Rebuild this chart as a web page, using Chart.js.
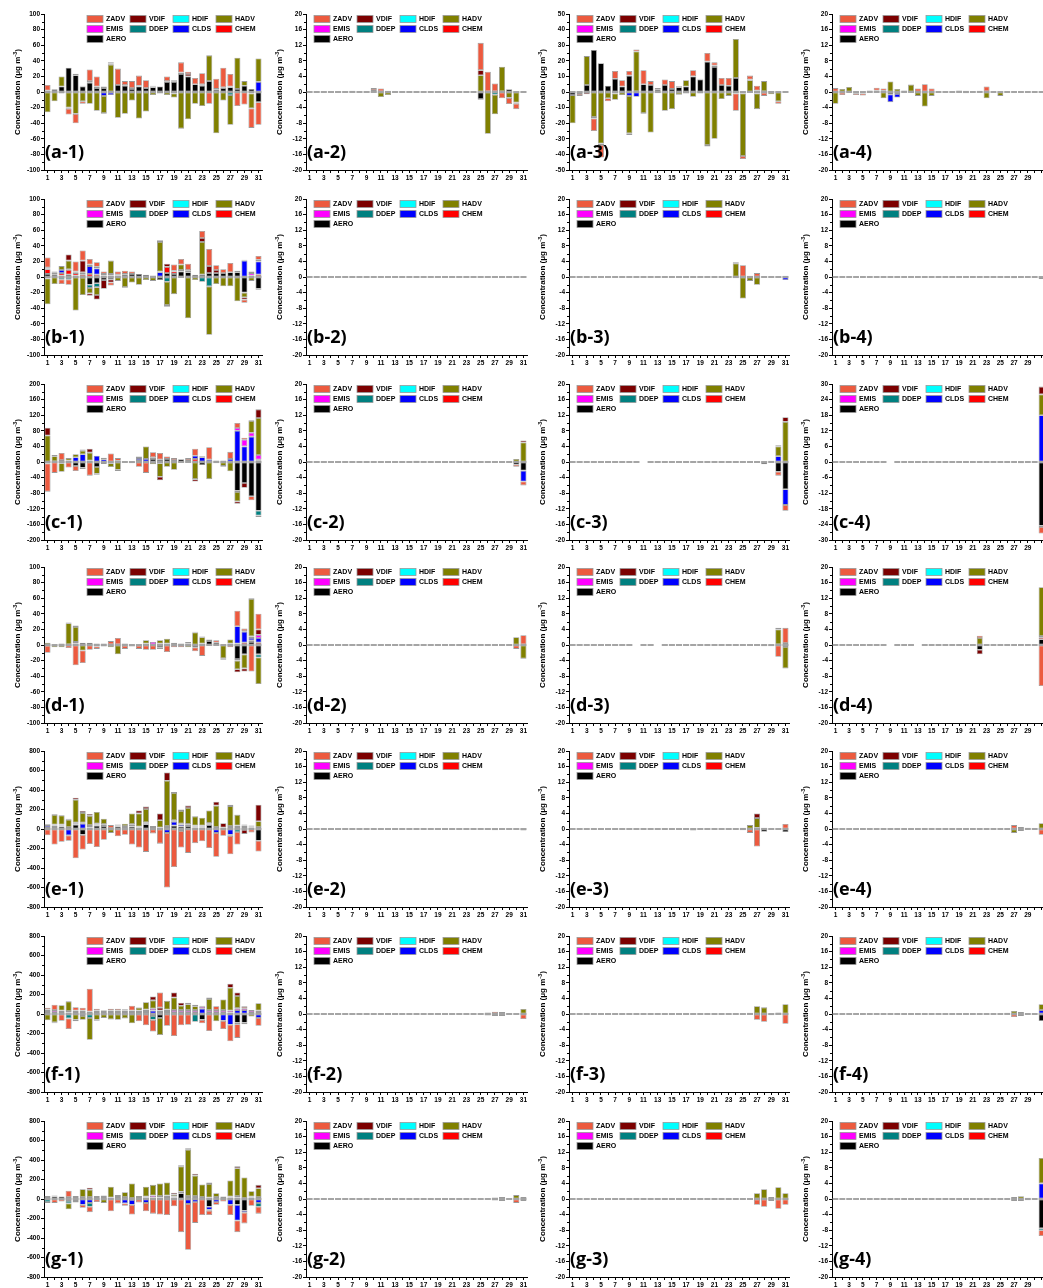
<!DOCTYPE html>
<html>
<head>
<meta charset="utf-8">
<script src="https://cdn.jsdelivr.net/npm/chart.js@4.4.0/dist/chart.umd.min.js"></script>
<style>
  html, body { margin: 0; padding: 0; background: #fff; }
  body { position: relative; width: 1043px; height: 1288px; overflow: hidden; }
  canvas { position: absolute; }
</style>
</head>
<body>
<script>
// ---- categories ------------------------------------------------------------
const DAYS = [1,2,3,4,5,6,7,8,9,10,11,12,13,14,15,16,17,18,19,20,21,22,23,24,25,26,27,28,29,30,31];

// ---- process contributions (µg m-3), full daily lists or [day, value] pairs ---
// row a
const A1_AERO = [2,3,7,31,21.5,7,12,5,5,-1,9,8,4,7,5,6,7,13,13,23,20,10,8,14,3,5,6,4,8,4,-13];
const A1_HADV = [-26,-12,13,-20,-28,-12,-15,-24,-22,35,-33,-28,-11,-34,-25,-4,-2,-4,-5,-47,-35,-15,-18,33,-53,-11,-38,40,6,-19,30];
const A1_VDIF = [0,1,0,-1.5,2,1,2,2,-1,1.5,0,1,1,1,0,1,0,1,2,2,3,0,2,0,1,1,1,0,0,0,0];
const A1_ZADV = [7,0,-2,-7.5,-12,-3,15,13,2,1.5,21,5,9,13,10,1,0,6,0,13,3,8,14,-15,13,25,16,-18,-16,-25,-29];
const A1_CLDS = [[9,-5],[10,-3],[31,13]];
const A1_DDEP = [[19,-2],[27,-4],[30,-2]];

const A2_AERO = [[24,0.2],[25,-1.8],[26,0.2],[27,0.2],[28,0.2],[29,0.7]];
const A2_DDEP = [[25,-0.2],[27,-0.7]];
const A2_HADV = [[7,0.3],[10,0.5],[11,-1.3],[12,-0.8],[25,4.3],[26,-10.7],[27,-5],[28,6.3],[29,-1.5],[30,-2.7]];
const A2_VDIF = [[11,0.2],[25,1.3],[30,-0.3]];
const A2_ZADV = [[10,0.5],[11,0.7],[12,0.3],[25,7],[26,5],[27,2],[28,-1.6],[29,-1.6],[30,-1.4]];

const A3_AERO = [-2,0,4.5,27,18.5,4,8.5,3.5,10.5,0.5,5,4.5,1.5,4.5,2,3,3.5,10,8,19.5,16,4.5,4,9,0.5,0,1,0.5,0.7,0,0];
const A3_HADV = [-18,0,18.5,-16,-33,-4,-4,-2,-24,25.5,-13.5,-26,-0.8,-12,-11,-1.7,4,-3,-1,-34,-30,-4.5,-2.5,25,-40,7.5,-10,6.5,-1.5,-6,0];
const A3_VDIF = [0,0,-1.5,-1,-1,0,0,0,-1,0,-0.5,0,0,0,0,0,0,0,0.5,-1,1,0,0,0,0,0.5,0,0,0,0,0];
const A3_ZADV = [0.5,-1.2,0,-8,-8,-2,5,4,3,1.3,9,2.5,1,3.5,5,0.7,0,4,0,5.5,2,4.5,5,-11,-2,2.5,3,-2,0,-1.5,0];
const A3_CHEM = [[2,-1.3],[7,-1],[17,-1],[24,-1],[25,-1],[28,-0.5]];
const A3_CLDS = [[9,-2.5],[10,-3]];
const A3_DDEP = [[27,-1]];

const A4_AERO = [0,-0.2,-0.2,-0.3,0,0.4,0.4,0.3,-0.6,-0.5,0,-0.2,0,0,0,0,0,0,0.4,0.3,0.2,0,0.2,0.1,0,0.2,0.2,-0.1,-0.1,-0.2,-0.2];
const A4_HADV = [-3,0.8,1.3,0,-0.4,0,0,-1.6,2.7,0.8,0.4,1.9,-1,-3.7,-1,0,0,0,0,-0.3,0,0,-1.6,0,-1,0,0,0,0,0,0];
const A4_ZADV = [1,-0.6,0,-0.5,-0.5,0,0.7,0.6,0,0,0,0,0.9,2,0.9,0,0,0,0,0,0,0,1.2,0,0,0,0,0,0,0,0];
const A4_CLDS = [[9,-2],[10,-0.9]];
const A4_VDIF = [[22,0.3]];

// row b
const B1_AERO = [4,3,2,3,2,-1,-10,-8,-4,-3,2,3,4,4,3,2,-4,5,4,7,6,3,3,5,5,5,6,6,-20,2,-15];
const B1_CHEM = [6,2,3,6,3,3,4,3,2,2,1,1,0,0,0,0,0,8,3,2,2,0,0,0,0,0,0,0,0,0,3];
const B1_CLDS = [1,0,4,0,1,2,10,8,0,0,0,0,0,0,0,0,6,0,0,0,0,0,0,0,0,0,0,0,21,0,17];
const B1_DDEP = [-2,0,-3,-3,0,0,-4,-5,0,0,0,0,0,0,0,0,0,-6,0,-1,0,0,-6,-12,0,0,0,0,0,0,-1.5];
const B1_EMIS = [1,1,0,1,1,1,2,2,2,2,0,0,0,0,0,0,1,0,1,0,0,0,0,0,0,0,0,0,1,3,2];
const B1_HADV = [-33,-9,5,11,-43,-22,-7,-10,0,17,-5,-13,-7,-10,-4,-5,38,-30,-22,7,-53,-4,42,-62,-9,-12,-12,-31,-6,-5,0];
const B1_VDIF = [0,1,0,8,0,15,-3,-6,-11,-4,0,-1,0,0,0,0,2,4,0,0,1,0,5,9,4,0,0,0,-3,0,0];
const B1_ZADV = [13,0,-6,-7,13,13,7,6,3,-4,4,4,3,0,0,0,0,-2,8,7,8,0,9,22,6,5,12,2,-4,2,5];

const B3_AERO = [[24,-0.3],[26,0.3],[28,0.2],[31,0.3]];
const B3_CLDS = [[31,-0.8]];
const B3_HADV = [[24,3.5],[25,-5.5],[26,-1],[27,-2]];
const B3_VDIF = [[24,0.3]];
const B3_ZADV = [[25,3],[27,1]];

const B4_AERO = [[26,-0.2],[27,-0.3],[28,-0.2],[31,-0.5]];

// row c
const C1_AERO = [-4,2,-3,0,-10,-15,4,-13,-5,-3,3,2,2,5,0,8,6,8,5,7,5,0,-8,0,4,0,0,-74,-54,-88,-125];
const C1_CLDS = [0,0,5,4,12,20,0,16,7,0,0,0,0,5,8,0,0,0,0,0,0,8,12,6,0,4,8,80,40,65,3];
const C1_HADV = [68,13,-22,6,8,9,20,-17,4,-10,-20,0,0,4,32,-6,-35,-12,-20,0,-2,-44,0,-44,0,-10,-24,-24,0,30,95];
const C1_VDIF = [20,3,0,0,0,3,10,-3,0,0,-3,0,0,0,0,4,-9,0,0,0,0,-6,0,0,0,0,0,-6,-12,2,22];
const C1_ZADV = [-72,-28,18,-14,-13,-3,-35,0,0,22,7,-2,-3,-12,-28,13,17,6,5,-2,5,18,3,32,-3,-2,18,13,5,-10,-4];
const C1_CHEM = [[22,8],[31,3]];
const C1_DDEP = [[17,-3],[28,-3],[31,-12]];
const C1_EMIS = [[28,7],[29,17],[30,10],[31,12]];

const C2_AERO = [[30,-0.7],[31,-2.2]];
const C2_CLDS = [[31,-2.8]];
const C2_HADV = [[16,0.3],[30,0.8],[31,5]];
const C2_VDIF = [[31,0.5]];
const C2_ZADV = [[30,-0.5],[31,-1]];

const C3_AERO = [[28,-0.6],[29,0.3],[30,-2.5],[31,-7]];
const C3_CLDS = [[30,1.5],[31,-4]];
const C3_HADV = [[30,2.5],[31,10.3]];
const C3_VDIF = [[30,0.3],[31,1.2]];
const C3_ZADV = [[30,-1],[31,-1.5]];
const C3_MISSING = [11];

const C4_AERO = [[28,-0.5],[31,-24.5]];
const C4_CLDS = [[31,18]];
const C4_DDEP = [[31,-0.5]];
const C4_HADV = [[31,8]];
const C4_VDIF = [[31,3]];
const C4_ZADV = [[31,-2.5]];
const C4_MISSING = [9];

// row d
const D1_AERO = [-1,1,2,1,2,3,3,2,1,1,1,2,1,-1,2,1,-3,2,1,2,2,-3,2,5,3,1,2,-18,-12,4,-12];
const D1_HADV = [3,-3,-3,27,19,-7,0,-2,1,-3,-12,0,0,0,4,0,4,6,2,0,-3,16,8,-1,-1,-17,5,-11,-18,48,-34];
const D1_VDIF = [0,0,0,1,2,0,0,0,0,0,0,-1,0,0,0,0,0,0,0,0,0,1,1,0,0,-2,0,-4,-4,1,7];
const D1_ZADV = [-9,0,0,-4,-26,-16,-6,-3,-2,4,8,-4,-2,-4,-6,-6,-2,-9,-3,-3,2,-5,-14,2,3,0,-3,20,3,-34,20];
const D1_CHEM = [[5,2],[28,2],[29,3],[30,2],[31,3]];
const D1_CLDS = [[28,22],[29,14],[30,3],[31,6]];
const D1_DDEP = [[28,-2],[31,-4]];
const D1_EMIS = [[16,3],[17,2],[29,1],[30,2],[31,4]];

const D2_AERO = [[31,0.2]];
const D2_HADV = [[30,2],[31,-3.5]];
const D2_ZADV = [[30,-1],[31,2.3]];

const D3_AERO = [[28,-0.3],[30,0.2],[31,0.5]];
const D3_CLDS = [[31,-0.5]];
const D3_HADV = [[30,3.8],[31,-5.5]];
const D3_VDIF = [[28,0.2],[29,-0.3],[30,0.4]];
const D3_ZADV = [[30,-3],[31,3.9]];
const D3_MISSING = [10,13];

const D4_AERO = [[10,-0.2],[22,-1.2],[28,0.2],[29,0.2],[31,1.5]];
const D4_CHEM = [[31,0.5]];
const D4_CLDS = [[31,0.3]];
const D4_HADV = [[22,1.8],[31,12.5]];
const D4_VDIF = [[22,-1.2]];
const D4_ZADV = [[22,0.6],[31,-10.5]];
const D4_MISSING = [9,13];

// row e
const E1_AERO = [20,20,25,10,45,-60,15,35,30,10,25,20,25,10,50,20,5,20,35,25,30,15,15,40,10,10,20,20,20,15,-120];
const E1_CLDS = [20,15,10,-65,10,55,15,10,10,0,0,0,15,5,10,0,0,-40,40,20,10,10,0,10,-40,0,-60,10,15,0,10];
const E1_EMIS = [10,10,10,10,10,10,10,10,10,0,10,10,10,10,10,10,10,10,15,10,10,10,10,10,10,5,10,5,10,10,10];
const E1_HADV = [0,100,95,75,235,100,95,120,55,-40,0,25,110,135,135,0,75,465,280,130,165,95,80,130,220,0,205,110,-10,10,60];
const E1_VDIF = [0,10,0,10,20,20,20,0,0,0,10,0,0,30,25,0,70,85,10,15,25,0,0,0,40,45,15,5,-40,0,170];
const E1_ZADV = [-65,-160,-130,-55,-300,-150,-155,-185,-110,30,-75,-60,-160,-190,-235,-45,-150,-560,-390,-170,-245,-145,-125,-195,-245,-70,-190,-130,0,-35,-110];
const E1_DDEP = [[20,-20],[23,10],[27,-10],[28,-30]];

const E2_AERO = [[25,0.2],[26,-0.2],[31,-0.4]];
const E2_HADV = [[27,-0.3]];

const E3_AERO = [[25,0.3],[27,0.3],[28,-0.7],[31,-0.8]];
const E3_HADV = [[18,-0.4],[26,1],[27,2.5],[28,0.3]];
const E3_VDIF = [[27,1.2]];
const E3_ZADV = [[25,-0.3],[26,-1],[27,-4.5],[31,1.3]];

const E4_AERO = [[28,0.5],[29,0.3]];
const E4_HADV = [[27,-1],[31,1.5]];
const E4_ZADV = [[27,1],[28,-0.5],[31,-1.5]];

// row f
const F1_AERO = [20,20,20,15,20,20,10,20,20,20,20,20,20,20,20,-20,-40,20,20,20,20,20,-60,20,20,20,15,-90,-90,20,20];
const F1_EMIS = [15,20,15,15,15,15,15,15,15,15,15,15,15,15,15,20,15,15,20,20,20,20,20,20,20,20,20,20,20,20,15];
const F1_HADV = [-65,-85,55,100,-60,-40,-225,-60,-40,-55,-60,-45,-95,30,75,85,-175,90,130,45,60,40,0,115,-75,110,235,125,0,-25,75];
const F1_VDIF = [0,-10,0,0,-15,0,0,-10,0,-5,0,0,0,5,0,40,30,0,50,30,15,15,10,15,0,0,40,35,-15,0,0];
const F1_ZADV = [20,55,-70,-110,35,30,235,20,5,20,20,15,50,-75,-115,-120,155,-120,-225,-115,-110,0,-35,-175,40,-85,-170,-140,20,0,-80];
const F1_CHEM = [[1,10]];
const F1_CLDS = [[15,10],[16,35],[17,20],[23,55],[26,-70],[27,-110],[28,40],[29,40],[31,-40]];
const F1_DDEP = [[4,-45],[6,-20],[7,-40],[16,-40],[18,10],[22,-80],[28,-15]];

const F2_AERO = [[29,0.2]];
const F2_HADV = [[26,0.4],[27,-0.5],[28,0.5],[31,1.3]];
const F2_ZADV = [[26,-0.4],[27,0.6],[28,-0.5],[31,-1.3]];

const F3_AERO = [[29,-0.3],[30,0.4]];
const F3_HADV = [[26,0.3],[27,2],[28,1.7],[31,2.5]];
const F3_ZADV = [[27,-1.5],[28,-2],[31,-2.5]];

const F4_AERO = [[29,0.2],[31,-1.8]];
const F4_CLDS = [[31,1]];
const F4_HADV = [[26,0.3],[27,0.8],[28,0.5],[31,1.5]];
const F4_ZADV = [[27,-0.8],[28,-0.5]];

// row g
const G1_AERO = [20,25,25,-20,20,20,20,20,20,15,20,10,-10,20,15,15,15,20,15,60,20,20,10,-80,20,20,10,-60,-120,15,10];
const G1_EMIS = [10,10,0,0,10,0,0,10,15,0,10,10,10,10,10,20,15,15,10,15,10,10,10,15,0,5,10,15,10,10,10];
const G1_HADV = [-10,0,0,-60,0,80,75,0,-40,110,10,50,150,0,100,110,130,135,20,260,475,210,130,140,40,0,165,285,210,55,90];
const G1_ZADV = [0,-40,-25,65,-15,-30,-55,-30,0,-125,-45,-25,-100,-35,-85,-150,-160,-165,-75,-340,-470,-215,-165,-45,-30,-25,-105,-120,-110,-70,-70];
const G1_CHEM = [[4,20]];
const G1_CLDS = [[5,-20],[6,-60],[7,-40],[12,-45],[13,-50],[15,-40],[21,-50],[22,-30],[24,-30],[25,-30],[27,-60],[28,-160],[29,-20],[31,-40]];
const G1_DDEP = [[1,-30],[4,-25],[7,-40],[24,-10],[27,5],[31,-40]];
const G1_HDIF = [[28,15]];
const G1_VDIF = [[7,20],[19,20],[20,10],[21,15],[22,20],[24,15],[28,20],[31,35]];

const G2_AERO = [[26,0.2]];
const G2_HADV = [[27,0.4],[28,0.5],[30,1],[31,0.5]];
const G2_ZADV = [[27,-0.4],[28,-0.5],[30,-1],[31,-0.5]];

const G3_AERO = [[29,0.5]];
const G3_HADV = [[27,1.5],[28,2.5],[30,3],[31,1.5]];
const G3_ZADV = [[27,-1.5],[28,-2],[29,-0.5],[30,-2.5],[31,-1.5]];

const G4_AERO = [[29,0.3],[31,-7.5]];
const G4_CLDS = [[31,4]];
const G4_DDEP = [[31,-0.5]];
const G4_HADV = [[27,0.5],[28,0.7],[31,6.5]];
const G4_ZADV = [[27,-0.5],[28,-0.5],[29,-0.3],[31,-1.5]];

// ---- panels: axis range / step per panel ------------------------------------
const PANELS = [
  { id: 'a-1', row: 0, col: 0, range: 100, step: 20, s: { AERO: A1_AERO, CLDS: A1_CLDS, DDEP: A1_DDEP, HADV: A1_HADV, VDIF: A1_VDIF, ZADV: A1_ZADV } },
  { id: 'a-2', row: 0, col: 1, range: 20, step: 4, s: { AERO: A2_AERO, DDEP: A2_DDEP, HADV: A2_HADV, VDIF: A2_VDIF, ZADV: A2_ZADV } },
  { id: 'a-3', row: 0, col: 2, range: 50, step: 10, s: { AERO: A3_AERO, CHEM: A3_CHEM, CLDS: A3_CLDS, DDEP: A3_DDEP, HADV: A3_HADV, VDIF: A3_VDIF, ZADV: A3_ZADV } },
  { id: 'a-4', row: 0, col: 3, range: 20, step: 4, s: { AERO: A4_AERO, CLDS: A4_CLDS, HADV: A4_HADV, VDIF: A4_VDIF, ZADV: A4_ZADV } },

  { id: 'b-1', row: 1, col: 0, range: 100, step: 20, s: { AERO: B1_AERO, CHEM: B1_CHEM, CLDS: B1_CLDS, DDEP: B1_DDEP, EMIS: B1_EMIS, HADV: B1_HADV, VDIF: B1_VDIF, ZADV: B1_ZADV } },
  { id: 'b-2', row: 1, col: 1, range: 20, step: 4, s: {} },
  { id: 'b-3', row: 1, col: 2, range: 20, step: 4, s: { AERO: B3_AERO, CLDS: B3_CLDS, HADV: B3_HADV, VDIF: B3_VDIF, ZADV: B3_ZADV } },
  { id: 'b-4', row: 1, col: 3, range: 20, step: 4, s: { AERO: B4_AERO } },

  { id: 'c-1', row: 2, col: 0, range: 200, step: 40, s: { AERO: C1_AERO, CHEM: C1_CHEM, CLDS: C1_CLDS, DDEP: C1_DDEP, EMIS: C1_EMIS, HADV: C1_HADV, VDIF: C1_VDIF, ZADV: C1_ZADV } },
  { id: 'c-2', row: 2, col: 1, range: 20, step: 4, s: { AERO: C2_AERO, CLDS: C2_CLDS, HADV: C2_HADV, VDIF: C2_VDIF, ZADV: C2_ZADV } },
  { id: 'c-3', row: 2, col: 2, range: 20, step: 4, missing: C3_MISSING, s: { AERO: C3_AERO, CLDS: C3_CLDS, HADV: C3_HADV, VDIF: C3_VDIF, ZADV: C3_ZADV } },
  { id: 'c-4', row: 2, col: 3, range: 30, step: 6, missing: C4_MISSING, s: { AERO: C4_AERO, CLDS: C4_CLDS, DDEP: C4_DDEP, HADV: C4_HADV, VDIF: C4_VDIF, ZADV: C4_ZADV } },

  { id: 'd-1', row: 3, col: 0, range: 100, step: 20, s: { AERO: D1_AERO, CHEM: D1_CHEM, CLDS: D1_CLDS, DDEP: D1_DDEP, EMIS: D1_EMIS, HADV: D1_HADV, VDIF: D1_VDIF, ZADV: D1_ZADV } },
  { id: 'd-2', row: 3, col: 1, range: 20, step: 4, s: { AERO: D2_AERO, HADV: D2_HADV, ZADV: D2_ZADV } },
  { id: 'd-3', row: 3, col: 2, range: 20, step: 4, missing: D3_MISSING, s: { AERO: D3_AERO, CLDS: D3_CLDS, HADV: D3_HADV, VDIF: D3_VDIF, ZADV: D3_ZADV } },
  { id: 'd-4', row: 3, col: 3, range: 20, step: 4, missing: D4_MISSING, s: { AERO: D4_AERO, CHEM: D4_CHEM, CLDS: D4_CLDS, HADV: D4_HADV, VDIF: D4_VDIF, ZADV: D4_ZADV } },

  { id: 'e-1', row: 4, col: 0, range: 800, step: 200, s: { AERO: E1_AERO, CLDS: E1_CLDS, DDEP: E1_DDEP, EMIS: E1_EMIS, HADV: E1_HADV, VDIF: E1_VDIF, ZADV: E1_ZADV } },
  { id: 'e-2', row: 4, col: 1, range: 20, step: 4, s: { AERO: E2_AERO, HADV: E2_HADV } },
  { id: 'e-3', row: 4, col: 2, range: 20, step: 4, s: { AERO: E3_AERO, HADV: E3_HADV, VDIF: E3_VDIF, ZADV: E3_ZADV } },
  { id: 'e-4', row: 4, col: 3, range: 20, step: 4, s: { AERO: E4_AERO, HADV: E4_HADV, ZADV: E4_ZADV } },

  { id: 'f-1', row: 5, col: 0, range: 800, step: 200, s: { AERO: F1_AERO, CHEM: F1_CHEM, CLDS: F1_CLDS, DDEP: F1_DDEP, EMIS: F1_EMIS, HADV: F1_HADV, VDIF: F1_VDIF, ZADV: F1_ZADV } },
  { id: 'f-2', row: 5, col: 1, range: 20, step: 4, s: { AERO: F2_AERO, HADV: F2_HADV, ZADV: F2_ZADV } },
  { id: 'f-3', row: 5, col: 2, range: 20, step: 4, s: { AERO: F3_AERO, HADV: F3_HADV, ZADV: F3_ZADV } },
  { id: 'f-4', row: 5, col: 3, range: 20, step: 4, s: { AERO: F4_AERO, CLDS: F4_CLDS, HADV: F4_HADV, ZADV: F4_ZADV } },

  { id: 'g-1', row: 6, col: 0, range: 800, step: 200, s: { AERO: G1_AERO, CHEM: G1_CHEM, CLDS: G1_CLDS, DDEP: G1_DDEP, EMIS: G1_EMIS, HADV: G1_HADV, HDIF: G1_HDIF, VDIF: G1_VDIF, ZADV: G1_ZADV } },
  { id: 'g-2', row: 6, col: 1, range: 20, step: 4, s: { AERO: G2_AERO, HADV: G2_HADV, ZADV: G2_ZADV } },
  { id: 'g-3', row: 6, col: 2, range: 20, step: 4, s: { AERO: G3_AERO, HADV: G3_HADV, ZADV: G3_ZADV } },
  { id: 'g-4', row: 6, col: 3, range: 20, step: 4, s: { AERO: G4_AERO, CLDS: G4_CLDS, DDEP: G4_DDEP, HADV: G4_HADV, ZADV: G4_ZADV } }
];

// stacking order, from the zero line outward
const STACK = ['AERO', 'CHEM', 'CLDS', 'DDEP', 'EMIS', 'HDIF', 'HADV', 'VDIF', 'ZADV'];
const LEGEND = ['ZADV', 'VDIF', 'HDIF', 'HADV', 'EMIS', 'DDEP', 'CLDS', 'CHEM', 'AERO'];
const COLORS = {
  ZADV: '#EC5A3F', VDIF: '#7C0000', HDIF: '#00FFFF', HADV: '#808000', EMIS: '#FF00FF',
  DDEP: '#008080', CLDS: '#0000FF', CHEM: '#FF0000', AERO: '#000000'
};

// ---- page geometry ----------------------------------------------------------
const ROW_TOPS = [14, 199, 384, 567, 751, 936, 1121];
const COLS = [
  { left: 44, plotW: 218, legendDx: 43 },
  { left: 306, plotW: 221, legendDx: 8 },
  { left: 569, plotW: 220, legendDx: 8 },
  { left: 832, plotW: 213, legendDx: 8 }
];
const PLOT_H = 156;
const Y_W = 44, X_H = 22, PAD_T = 8, PAD_R = 4;
const FONT = '"Liberation Sans", Arial, sans-serif';
const BAR_PCT = 0.86;

function daily(series, missing) {
  const out = DAYS.map(() => 0);
  if (series && series.length) {
    if (Array.isArray(series[0])) series.forEach(([d, v]) => { out[d - 1] = v; });
    else series.forEach((v, i) => { out[i] = v; });
  }
  missing.forEach(d => { out[d - 1] = null; });
  return out;
}

// zero marks, legend, minor ticks, panel tag and y title
const panelDecor = {
  id: 'panelDecor',
  beforeDatasetsDraw(chart, args, o) {
    const { ctx, scales: { x, y } } = chart;
    const y0 = y.getPixelForValue(0);
    const half = (x.width / DAYS.length) * BAR_PCT / 2;
    ctx.save();
    ctx.strokeStyle = '#8f8f8f';
    ctx.lineWidth = 1.6;
    DAYS.forEach((d, i) => {
      if (o.missing.includes(d)) return;
      const px = x.getPixelForValue(i);
      ctx.beginPath();
      ctx.moveTo(px - half, y0);
      ctx.lineTo(px + half, y0);
      ctx.stroke();
    });
    ctx.restore();
  },
  afterDraw(chart, args, o) {
    const { ctx, chartArea: a, scales: { y } } = chart;
    ctx.save();

    // minor ticks on the y axis
    ctx.strokeStyle = '#000';
    ctx.lineWidth = 1;
    const t = y.ticks;
    for (let i = 0; i < t.length - 1; i++) {
      const py = Math.round(y.getPixelForValue((t[i].value + t[i + 1].value) / 2)) + 0.5;
      ctx.beginPath();
      ctx.moveTo(a.left - 2, py);
      ctx.lineTo(a.left, py);
      ctx.stroke();
    }

    // legend, four entries per row
    ctx.font = 'bold 7px ' + FONT;
    ctx.textBaseline = 'middle';
    ctx.textAlign = 'left';
    LEGEND.forEach((name, i) => {
      const lx = a.left + o.legendDx + (i % 4) * 43;
      const ly = a.top + 5 + Math.floor(i / 4) * 10;
      ctx.fillStyle = COLORS[name];
      ctx.fillRect(lx, ly - 3.5, 16, 7);
      ctx.strokeStyle = '#9a9a9a';
      ctx.lineWidth = 0.8;
      ctx.strokeRect(lx, ly - 3.5, 16, 7);
      ctx.fillStyle = '#000';
      ctx.fillText(name, lx + 19, ly + 0.5);
    });

    // panel tag
    ctx.font = 'bold 18px "Open Sans", sans-serif';
    ctx.textBaseline = 'alphabetic';
    ctx.fillText('(' + o.tag + ')', a.left + 1, a.bottom - 12);

    // rotated y title with superscript
    ctx.translate(a.left - 26, (a.top + a.bottom) / 2);
    ctx.rotate(-Math.PI / 2);
    const main = 'Concentration (\u03bcg m', sup = '-3', tail = ')';
    ctx.font = 'bold 8px ' + FONT;
    const w1 = ctx.measureText(main).width, w3 = ctx.measureText(tail).width;
    ctx.font = 'bold 5.5px ' + FONT;
    const w2 = ctx.measureText(sup).width;
    let tx = -(w1 + w2 + w3) / 2;
    ctx.textBaseline = 'middle';
    ctx.font = 'bold 8px ' + FONT;
    ctx.fillText(main, tx, 0);
    tx += w1;
    ctx.font = 'bold 5.5px ' + FONT;
    ctx.fillText(sup, tx, -3);
    tx += w2;
    ctx.font = 'bold 8px ' + FONT;
    ctx.fillText(tail, tx, 0);
    ctx.restore();
  }
};

PANELS.forEach(p => {
  const col = COLS[p.col];
  const missing = p.missing || [];
  const w = Y_W + col.plotW + PAD_R;
  const h = PAD_T + PLOT_H + X_H;
  const canvas = document.createElement('canvas');
  canvas.width = w;
  canvas.height = h;
  canvas.style.left = (col.left - Y_W) + 'px';
  canvas.style.top = (ROW_TOPS[p.row] - PAD_T) + 'px';
  canvas.style.width = w + 'px';
  canvas.style.height = h + 'px';
  document.body.appendChild(canvas);

  const datasets = STACK.map(name => ({
    label: name,
    data: daily(p.s[name], missing),
    backgroundColor: COLORS[name],
    borderColor: '#9a9a9a',
    borderWidth: 0.8,
    borderSkipped: false
  }));

  const lastCol = p.col === 3;

  new Chart(canvas, {
    type: 'bar',
    data: { labels: DAYS.map(String), datasets },
    options: {
      responsive: false,
      animation: false,
      devicePixelRatio: 1,
      layout: { padding: { top: PAD_T, right: PAD_R, left: 0, bottom: 0 } },
      datasets: { bar: { categoryPercentage: 1, barPercentage: BAR_PCT } },
      plugins: {
        legend: { display: false },
        tooltip: { enabled: false },
        panelDecor: { tag: p.id, legendDx: col.legendDx, missing }
      },
      scales: {
        x: {
          stacked: true,
          offset: true,
          grid: { drawOnChartArea: false, drawTicks: true, tickLength: 3, offset: false, color: '#000' },
          border: { color: '#000', width: 1 },
          ticks: {
            autoSkip: false, maxRotation: 0, minRotation: 0, padding: 1, color: '#000',
            font: { family: FONT, size: 6.5, weight: 'bold' },
            callback: (v, i) => (i % 2 === 0 && !(lastCol && i === 30)) ? String(DAYS[i]) : ''
          },
          afterFit: s => { s.height = X_H; }
        },
        y: {
          stacked: true,
          min: -p.range,
          max: p.range,
          grid: { drawOnChartArea: false, drawTicks: true, tickLength: 3, color: '#000' },
          border: { color: '#000', width: 1 },
          ticks: {
            stepSize: p.step, padding: 1, color: '#000',
            font: { family: FONT, size: 6.5, weight: 'bold' },
            callback: v => String(v)
          },
          afterFit: s => { s.width = Y_W; }
        }
      }
    },
    plugins: [panelDecor]
  });
});
</script>
</body>
</html>
